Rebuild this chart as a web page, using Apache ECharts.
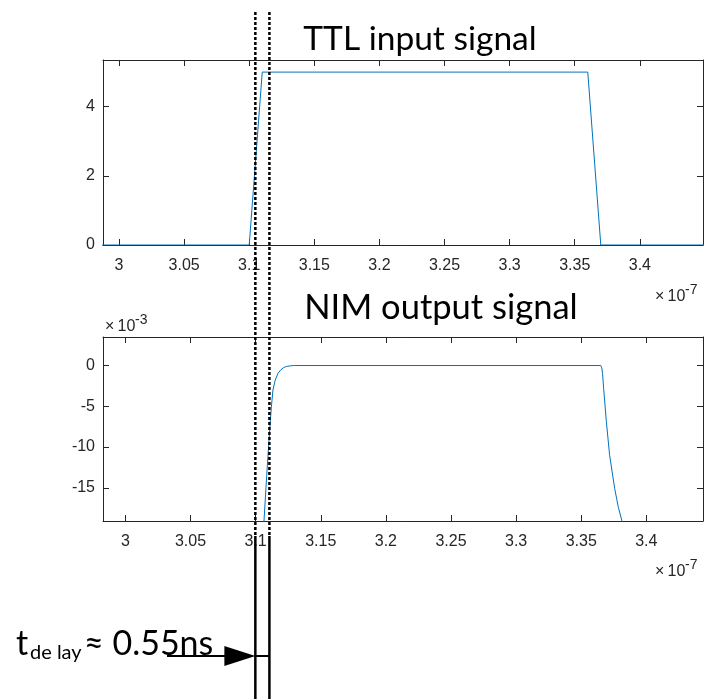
<!DOCTYPE html>
<html><head><meta charset="utf-8">
<script src="https://cdn.jsdelivr.net/npm/echarts@6/dist/echarts.min.js"></script>
<style>html,body{margin:0;padding:0;background:#fff}#c{width:705px;height:699px}</style>
</head><body><div id="c"></div>
<script>
// ---- data (time in units of 1e-7 s) ----
const xTickValues = [3, 3.05, 3.1, 3.15, 3.2, 3.25, 3.3, 3.35, 3.4];
const ttlYTicks = [0, 2, 4];
const nimYTicks = [-15, -10, -5, 0];
const ttlTime = [2.98, 3.10, 3.11, 3.36, 3.37, 3.46];
const ttlVolt = [0, 0, 5, 5, 0, 0];
const nimTime = [3.1058, 3.1064, 3.1085, 3.1108, 3.1120, 3.1133, 3.1150, 3.1172, 3.1195, 3.1215, 3.1236, 3.1270, 3.1300,
                 3.3650, 3.3658, 3.3664, 3.3672, 3.3693, 3.3718, 3.3757, 3.3785, 3.3813, 3.3830];
const nimVolt = [-21.5, -19.1, -13.5, -7.9, -5.2, -3.0, -1.8, -0.95, -0.5, -0.25, -0.12, -0.03, 0,
                 0, -0.3, -1.0, -2.8, -6.9, -11, -15.1, -17.4, -19.1, -20.3];
const delayMarks = [3.1047, 3.1155];
const titles = ['TTL input signal', 'NIM output signal'];
const delayLabel = ['t', 'de lay', '≈ 0.55ns'];

const AX = '#262626';
const lblFont = 'Liberation Sans';
const lblSize = 16;
function xAx(grid, min, max, top) {
  return {
    type: 'value', gridIndex: grid, min: min, max: max, position: top ? 'top' : 'bottom',
    axisLine: { show: true, onZero: false, lineStyle: { color: AX, width: 1 } },
    axisTick: { show: true, inside: true, length: 6, customValues: xTickValues, lineStyle: { color: AX } },
    axisLabel: { show: !top, customValues: xTickValues, color: AX, fontFamily: lblFont, fontSize: lblSize, margin: 13,
                 formatter: v => String(+(+v).toFixed(2)) },
    splitLine: { show: false }
  };
}
function yAx(grid, min, max, ticks, right) {
  return {
    type: 'value', gridIndex: grid, min: min, max: max, position: right ? 'right' : 'left',
    axisLine: { show: true, onZero: false, lineStyle: { color: AX, width: 1 } },
    axisTick: { show: true, inside: true, length: 6, customValues: ticks, lineStyle: { color: AX } },
    axisLabel: { show: !right, customValues: ticks, color: AX, fontFamily: lblFont, fontSize: lblSize, margin: 8,
                 formatter: v => String(+(+v).toFixed(2)) },
    splitLine: { show: false }
  };
}
const chart = echarts.init(document.getElementById('c'), null, { renderer: 'canvas' });
const option = {
  animation: false,
  backgroundColor: '#fff',
  grid: [
    { left: 103, top: 60, width: 600, height: 185 },
    { left: 103, top: 337, width: 600, height: 184 }
  ],
  xAxis: [
    xAx(0, 2.9877, 3.4485, false), xAx(0, 2.9877, 3.4485, true),
    xAx(1, 2.9828, 3.4435, false), xAx(1, 2.9828, 3.4435, true)
  ],
  yAxis: [
    yAx(0, 0, 5.35, ttlYTicks, false), yAx(0, 0, 5.35, ttlYTicks, true),
    yAx(1, -19.08, 3.5, nimYTicks, false), yAx(1, -19.08, 3.5, nimYTicks, true)
  ],
  series: [
    { type: 'line', xAxisIndex: 0, yAxisIndex: 0, showSymbol: false, clip: true,
      lineStyle: { color: '#0072BD', width: 1 }, data: ttlTime.map((t, i) => [t, ttlVolt[i]]) },
    { type: 'line', xAxisIndex: 2, yAxisIndex: 2, showSymbol: false, clip: true,
      lineStyle: { color: '#0072BD', width: 1 }, data: nimTime.map((t, i) => [t, nimVolt[i]]) }
  ]
};
chart.setOption(option);

const xa = chart.convertToPixel({ xAxisIndex: 0 }, delayMarks[0]);
const xb = chart.convertToPixel({ xAxisIndex: 0 }, delayMarks[1]);
const arrowY = 656;
const solidTop = 536;
const g = [];
[xa, xb].forEach(x => {
  g.push({ type: 'line', z: 100, shape: { x1: x, y1: 12, x2: x, y2: solidTop }, style: { stroke: '#000', lineWidth: 2.5, lineDash: [3, 2] } });
  g.push({ type: 'line', z: 100, shape: { x1: x, y1: solidTop, x2: x, y2: 699 }, style: { stroke: '#000', lineWidth: 2.5 } });
});
g.push({ type: 'line', z: 100, shape: { x1: xa, y1: arrowY, x2: xb, y2: arrowY }, style: { stroke: '#000', lineWidth: 2 } });
g.push({ type: 'line', z: 100, shape: { x1: 167, y1: arrowY, x2: xa - 25, y2: arrowY }, style: { stroke: '#000', lineWidth: 2 } });
g.push({ type: 'polygon', z: 100, shape: { points: [[xa - 31, arrowY - 10], [xa, arrowY], [xa - 31, arrowY + 10]] }, style: { fill: '#000' } });

function txt(s, x, y, size, opts) {
  return Object.assign({ type: 'text', z: 90, style: Object.assign({ text: s, x: x, y: y, fontFamily: 'Lato', fontSize: size, fill: '#000', align: 'left', verticalAlign: 'middle' }, opts || {}) });
}
g.push(txt(titles[0], 420, 39, 33.5, { align: 'center' }));
g.push(txt(titles[1], 441, 308, 34.5, { align: 'center' }));
const sci = [[655, 297, '-7'], [655, 572, '-7'], [105, 327, '-3']];
sci.forEach(([x, y, e]) => {
  g.push(txt('×', x, y, 16, { fontFamily: lblFont, fill: AX }));
  g.push(txt('10', x + 12.5, y, 16, { fontFamily: lblFont, fill: AX }));
  g.push(txt(e, x + 30, y - 7, 14, { fontFamily: lblFont, fill: AX }));
});
g.push(txt(delayLabel[0], 16, 644, 34));
g.push(txt(delayLabel[1], 30, 653, 20));
g.push(txt(delayLabel[2], 84, 644, 34));
chart.setOption({ graphic: g });
</script></body></html>
